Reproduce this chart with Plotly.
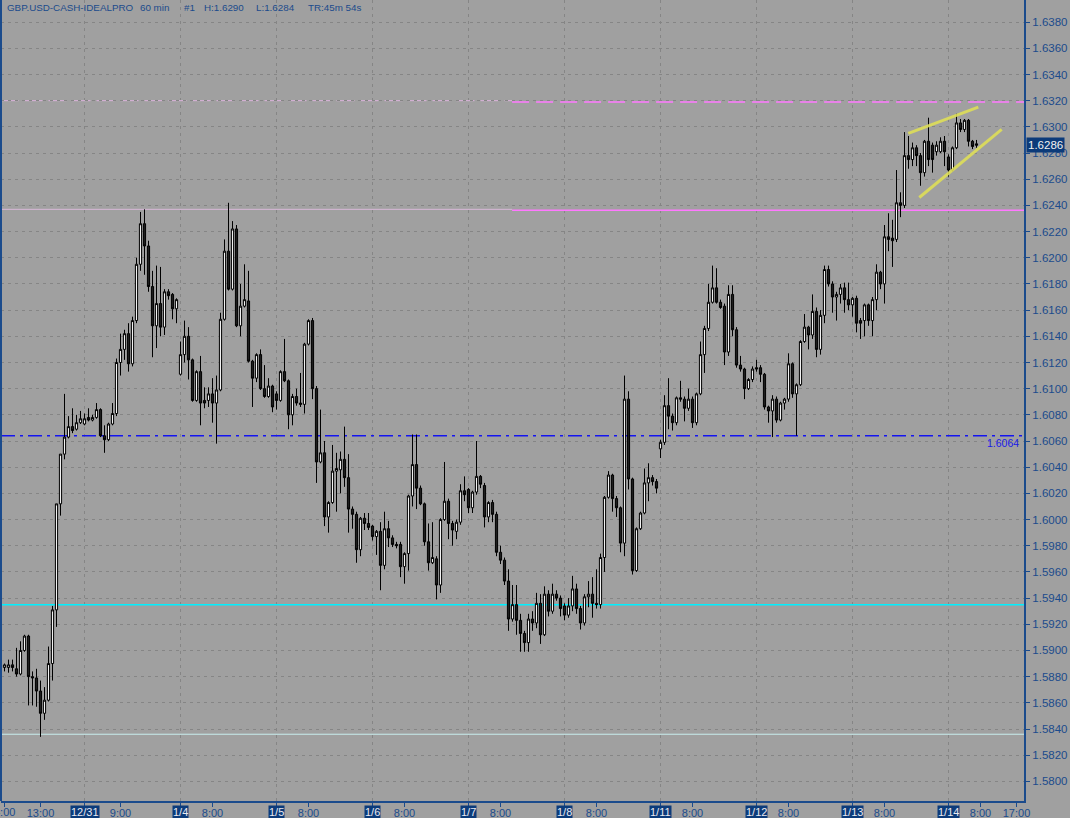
import plotly.graph_objects as go

# ---------------- data (hourly GBP.USD bars, index 0 = 12/30 04:00) ----------------
opens = [1.5887,1.5887,1.5889,1.5886,1.5882,1.5900,1.5911,1.5880,1.5879,1.5869,
         1.5852,1.5862,1.5890,1.5931,1.6012,1.6050,1.6063,1.6071,1.6069,1.6074,
         1.6073,1.6078,1.6076,1.6078,1.6084,1.6064,1.6061,1.6073,1.6081,1.6120,
         1.6130,1.6142,1.6119,1.6152,1.6195,1.6226,1.6209,1.6178,1.6148,1.6165,
         1.6147,1.6174,1.6172,1.6161,1.6111,1.6126,1.6140,1.6122,1.6091,1.6113,
         1.6091,1.6091,1.6096,1.6089,1.6099,1.6153,1.6205,1.6176,1.6222,1.6148,
         1.6163,1.6167,1.6121,1.6108,1.6126,1.6100,1.6094,1.6102,1.6096,1.6091,
         1.6113,1.6106,1.6080,1.6094,1.6089,1.6088,1.6134,1.6152,1.6100,1.6044,
         1.6051,1.6002,1.6013,1.6037,1.6038,1.6046,1.6032,1.6008,1.6004,1.5977,
         1.6001,1.5997,1.5995,1.5987,1.5991,1.5965,1.5993,1.5986,1.5981,1.5981,
         1.5964,1.5974,1.6018,1.6042,1.6024,1.6012,1.5983,1.5967,1.5970,1.5950,
         1.6000,1.6014,1.5997,1.5991,1.5998,1.6022,1.6023,1.6009,1.6021,1.6033,
         1.6026,1.6002,1.6013,1.6004,1.5975,1.5969,1.5953,1.5924,1.5935,1.5923,
         1.5913,1.5906,1.5924,1.5921,1.5936,1.5912,1.5943,1.5930,1.5943,1.5940,
         1.5934,1.5927,1.5934,1.5947,1.5932,1.5921,1.5941,1.5943,1.5936,1.5935,
         1.5971,1.6017,1.6034,1.6016,1.6009,1.5982,1.6092,1.6031,1.5961,1.5993,
         1.6005,1.6028,1.6032,1.6029,1.6054,1.6059,1.6087,1.6079,1.6074,1.6093,
         1.6092,1.6085,1.6092,1.6074,1.6096,1.6126,1.6146,1.6166,1.6177,1.6166,
         1.6163,1.6128,1.6172,1.6145,1.6118,1.6115,1.6100,1.6107,1.6116,1.6116,
         1.6111,1.6086,1.6083,1.6092,1.6076,1.6089,1.6092,1.6119,1.6096,1.6103,
         1.6136,1.6147,1.6141,1.6159,1.6130,1.6156,1.6191,1.6180,1.6170,1.6172,
         1.6177,1.6168,1.6164,1.6169,1.6152,1.6152,1.6164,1.6152,1.6168,1.6189,
         1.6180,1.6216,1.6215,1.6214,1.6242,1.6240,1.6278,1.6275,1.6284,1.6278,
         1.6265,1.6289,1.6286,1.6281,1.6281,1.6289,1.6277,1.6267,1.6284,1.6303,
         1.6298,1.6305,1.6289,1.6287]
highs = [1.5890,1.5893,1.5893,1.5902,1.5907,1.5912,1.5912,1.5884,1.5886,1.5877,
         1.5872,1.5903,1.5934,1.6012,1.6050,1.6096,1.6079,1.6085,1.6080,1.6083,
         1.6081,1.6085,1.6080,1.6089,1.6085,1.6072,1.6074,1.6089,1.6123,1.6142,
         1.6145,1.6150,1.6155,1.6200,1.6235,1.6237,1.6213,1.6190,1.6194,1.6193,
         1.6176,1.6176,1.6173,1.6169,1.6136,1.6152,1.6147,1.6123,1.6114,1.6125,
         1.6101,1.6101,1.6108,1.6110,1.6158,1.6214,1.6242,1.6228,1.6225,1.6180,
         1.6195,1.6190,1.6122,1.6127,1.6130,1.6118,1.6108,1.6103,1.6098,1.6114,
         1.6138,1.6107,1.6096,1.6100,1.6112,1.6135,1.6153,1.6154,1.6102,1.6084,
         1.6060,1.6014,1.6057,1.6051,1.6052,1.6071,1.6050,1.6010,1.6006,1.6002,
         1.6005,1.6005,1.5996,1.5992,1.5998,1.6006,1.5999,1.5988,1.5983,1.5983,
         1.5975,1.6019,1.6065,1.6065,1.6026,1.6013,1.5997,1.5998,1.5972,1.6001,
         1.6044,1.6016,1.5999,1.6000,1.6027,1.6033,1.6024,1.6022,1.6060,1.6034,
         1.6028,1.6014,1.6015,1.6006,1.5980,1.5971,1.5962,1.5950,1.5950,1.5928,
         1.5915,1.5928,1.5930,1.5944,1.5943,1.5949,1.5946,1.5951,1.5946,1.5942,
         1.5936,1.5940,1.5957,1.5951,1.5934,1.5943,1.5953,1.5956,1.5962,1.5974,
         1.6018,1.6037,1.6035,1.6018,1.6010,1.6110,1.6098,1.6032,1.5994,1.6006,
         1.6039,1.6043,1.6034,1.6031,1.6061,1.6095,1.6108,1.6081,1.6094,1.6106,
         1.6094,1.6100,1.6094,1.6097,1.6136,1.6148,1.6180,1.6194,1.6192,1.6168,
         1.6165,1.6179,1.6179,1.6147,1.6125,1.6116,1.6108,1.6117,1.6122,1.6118,
         1.6112,1.6087,1.6095,1.6094,1.6090,1.6093,1.6127,1.6120,1.6104,1.6137,
         1.6157,1.6148,1.6172,1.6162,1.6160,1.6194,1.6194,1.6182,1.6174,1.6180,
         1.6181,1.6181,1.6170,1.6171,1.6154,1.6165,1.6165,1.6170,1.6195,1.6190,
         1.6225,1.6234,1.6229,1.6267,1.6250,1.6296,1.6293,1.6288,1.6286,1.6280,
         1.6290,1.6307,1.6288,1.6289,1.6292,1.6293,1.6279,1.6285,1.6310,1.6306,
         1.6306,1.6306,1.6290,1.6290]
lows =  [1.5884,1.5883,1.5884,1.5880,1.5881,1.5899,1.5858,1.5858,1.5857,1.5834,
         1.5847,1.5861,1.5877,1.5918,1.6003,1.6046,1.6062,1.6066,1.6068,1.6073,
         1.6072,1.6075,1.6075,1.6077,1.6063,1.6051,1.6060,1.6072,1.6079,1.6110,
         1.6122,1.6113,1.6117,1.6150,1.6190,1.6187,1.6174,1.6124,1.6131,1.6140,
         1.6141,1.6168,1.6153,1.6150,1.6110,1.6120,1.6107,1.6090,1.6090,1.6072,
         1.6085,1.6086,1.6074,1.6058,1.6098,1.6152,1.6175,1.6175,1.6147,1.6140,
         1.6162,1.6120,1.6086,1.6105,1.6099,1.6093,1.6093,1.6082,1.6084,1.6090,
         1.6105,1.6069,1.6072,1.6087,1.6086,1.6081,1.6133,1.6092,1.6028,1.6043,
         1.5995,1.5990,1.6012,1.6006,1.6020,1.6025,1.5990,1.5993,1.5967,1.5972,
         1.5992,1.5992,1.5984,1.5973,1.5946,1.5962,1.5979,1.5979,1.5978,1.5956,
         1.5951,1.5961,1.6010,1.6008,1.6011,1.5980,1.5961,1.5966,1.5939,1.5944,
         1.5999,1.5985,1.5980,1.5985,1.5996,1.6014,1.6005,1.6005,1.6019,1.6024,
         1.5994,1.5998,1.5998,1.5972,1.5966,1.5950,1.5915,1.5922,1.5912,1.5899,
         1.5899,1.5899,1.5915,1.5917,1.5905,1.5911,1.5926,1.5928,1.5938,1.5926,
         1.5923,1.5925,1.5930,1.5928,1.5916,1.5919,1.5933,1.5925,1.5932,1.5932,
         1.5960,1.6016,1.6006,1.6002,1.5975,1.5972,1.6023,1.5958,1.5960,1.5992,
         1.6004,1.6014,1.6026,1.6020,1.6047,1.6057,1.6069,1.6068,1.6072,1.6090,
         1.6075,1.6083,1.6070,1.6072,1.6095,1.6112,1.6144,1.6165,1.6165,1.6161,
         1.6118,1.6125,1.6140,1.6116,1.6113,1.6092,1.6099,1.6105,1.6113,1.6105,
         1.6084,1.6074,1.6063,1.6074,1.6075,1.6084,1.6090,1.6093,1.6064,1.6102,
         1.6135,1.6130,1.6138,1.6124,1.6126,1.6150,1.6178,1.6158,1.6152,1.6165,
         1.6158,1.6160,1.6155,1.6143,1.6138,1.6140,1.6148,1.6140,1.6160,1.6176,
         1.6165,1.6205,1.6193,1.6212,1.6231,1.6238,1.6268,1.6270,1.6270,1.6255,
         1.6262,1.6270,1.6265,1.6278,1.6280,1.6270,1.6262,1.6266,1.6283,1.6296,
         1.6296,1.6285,1.6283,1.6284]
closes = [1.5889,1.5889,1.5887,1.5882,1.5900,1.5911,1.5880,1.5879,1.5869,1.5852,
          1.5862,1.5890,1.5931,1.6012,1.6050,1.6063,1.6071,1.6068,1.6074,1.6077,
          1.6077,1.6076,1.6078,1.6084,1.6064,1.6061,1.6073,1.6081,1.6120,1.6130,
          1.6142,1.6119,1.6152,1.6195,1.6226,1.6209,1.6178,1.6148,1.6165,1.6147,
          1.6174,1.6171,1.6161,1.6168,1.6126,1.6140,1.6122,1.6091,1.6113,1.6089,
          1.6089,1.6096,1.6089,1.6099,1.6153,1.6205,1.6176,1.6222,1.6148,1.6163,
          1.6168,1.6121,1.6108,1.6126,1.6100,1.6094,1.6102,1.6086,1.6091,1.6113,
          1.6106,1.6080,1.6094,1.6089,1.6088,1.6134,1.6152,1.6100,1.6044,1.6051,
          1.6002,1.6013,1.6037,1.6039,1.6046,1.6032,1.6008,1.6004,1.5977,1.6001,
          1.5997,1.5994,1.5987,1.5991,1.5965,1.5993,1.5986,1.5981,1.5980,1.5964,
          1.5974,1.6018,1.6042,1.6024,1.6012,1.5983,1.5967,1.5971,1.5950,1.6000,
          1.6014,1.5997,1.5992,1.5998,1.6022,1.6019,1.6009,1.6021,1.6033,1.6027,
          1.6002,1.6013,1.6004,1.5975,1.5969,1.5953,1.5924,1.5935,1.5923,1.5913,
          1.5906,1.5924,1.5921,1.5936,1.5912,1.5943,1.5930,1.5943,1.5940,1.5932,
          1.5927,1.5934,1.5947,1.5932,1.5921,1.5941,1.5943,1.5936,1.5935,1.5971,
          1.6017,1.6034,1.6016,1.6009,1.5982,1.6092,1.6031,1.5961,1.5993,1.6005,
          1.6028,1.6032,1.6029,1.6024,1.6059,1.6087,1.6079,1.6074,1.6093,1.6092,
          1.6085,1.6092,1.6074,1.6096,1.6126,1.6146,1.6166,1.6177,1.6166,1.6162,
          1.6128,1.6172,1.6145,1.6118,1.6115,1.6100,1.6107,1.6115,1.6115,1.6111,
          1.6086,1.6083,1.6092,1.6076,1.6089,1.6092,1.6119,1.6096,1.6103,1.6136,
          1.6147,1.6141,1.6159,1.6130,1.6156,1.6191,1.6180,1.6170,1.6172,1.6177,
          1.6168,1.6164,1.6169,1.6150,1.6150,1.6164,1.6152,1.6168,1.6189,1.6180,
          1.6216,1.6214,1.6213,1.6242,1.6240,1.6278,1.6275,1.6284,1.6278,1.6265,
          1.6289,1.6275,1.6275,1.6286,1.6289,1.6281,1.6267,1.6284,1.6303,1.6298,
          1.6305,1.6289,1.6285,1.6286]

bar_index = list(range(len(closes)))

# x-axis labels (bar index positions)
time_tick_idx = [0, 9, 29, 52, 76, 100, 124, 148, 172, 196, 220, 244, 253]
time_tick_txt = ["4:00", "13:00", "9:00", "8:00", "8:00", "8:00", "8:00",
                 "8:00", "8:00", "8:00", "8:00", "8:00", "17:00"]
day_idx = [20, 44, 68, 92, 116, 140, 164, 188, 212, 236]
day_txt = ["12/31", "1/4", "1/5", "1/6", "1/7", "1/8", "1/11", "1/12", "1/13", "1/14"]

# y-axis ticks
price_ticks = [round(1.5800 + 0.002 * k, 4) for k in range(30)]

# horizontal levels
level_res_top = 1.6320
level_res_bot = 1.6237
level_pivot = 1.6064
level_cyan = 1.5935
level_low = 1.5836
level_split_idx = 126.9          # where the magenta segments begin
# wedge (rising) lines: (x0, y0, x1, y1) in bar index / price
wedge_upper = (225.95, 1.6295, 243.45, 1.6315)
wedge_lower = (228.7, 1.6246, 249.3, 1.6298)

last_price = 1.6286

# ---------------- styling ----------------
BG = "#a0a0a0"
AXIS_BLUE = "#1b4b8c"
BOX_BLUE = "#0c3b7a"
FONT = "Liberation Sans, Arial, sans-serif"

fig = go.Figure()
fig.add_trace(go.Candlestick(
    x=bar_index, open=opens, high=highs, low=lows, close=closes,
    increasing=dict(fillcolor="#f2f2f2", line=dict(color="#000000", width=1)),
    decreasing=dict(fillcolor="#1e1e1e", line=dict(color="#000000", width=1)),
    whiskerwidth=0, hoverinfo="skip", showlegend=False,
))

shapes = []
# vertical day grid lines
for d in day_idx:
    shapes.append(dict(type="line", xref="x", yref="paper", x0=d, x1=d, y0=0, y1=1,
                       line=dict(color="#858585", width=1, dash="3px,4px"), layer="below"))
# horizontal levels
shapes += [
    dict(type="line", xref="paper", yref="y", x0=0, x1=1, y0=level_low, y1=level_low,
         line=dict(color="#c8eeee", width=1), layer="below"),
    dict(type="line", xref="paper", yref="y", x0=0, x1=1, y0=level_cyan, y1=level_cyan,
         line=dict(color="#00f0ff", width=1.5), layer="below"),
    dict(type="line", xref="paper", yref="y", x0=0, x1=1, y0=level_pivot, y1=level_pivot,
         line=dict(color="#1414f0", width=1.5, dash="14px,5px,3px,5px"), layer="below"),
    dict(type="line", xref="x", yref="y", x0=-1, x1=level_split_idx, y0=level_res_top, y1=level_res_top,
         line=dict(color="#dcb4dc", width=1, dash="18px,6px"), layer="below"),
    dict(type="line", xref="x", yref="y", x0=level_split_idx, x1=260, y0=level_res_top - 0.0001,
         y1=level_res_top - 0.0001, line=dict(color="#ff78ff", width=1.5, dash="17px,7px"), layer="below"),
    dict(type="line", xref="x", yref="y", x0=-1, x1=level_split_idx, y0=level_res_bot, y1=level_res_bot,
         line=dict(color="#d8b8d8", width=1), layer="below"),
    dict(type="line", xref="x", yref="y", x0=level_split_idx, x1=260, y0=level_res_bot - 0.00007,
         y1=level_res_bot - 0.00007, line=dict(color="#ff78ff", width=1.5), layer="below"),
]
# wedge lines
for (ax0, ay0, ax1, ay1) in (wedge_upper, wedge_lower):
    shapes.append(dict(type="line", xref="x", yref="y", x0=ax0, y0=ay0, x1=ax1, y1=ay1,
                       line=dict(color="rgba(222,222,88,0.9)", width=3), layer="above"))
# left border
shapes.append(dict(type="line", xref="paper", yref="paper", x0=0, x1=0, y0=0, y1=1,
                   line=dict(color=AXIS_BLUE, width=2), layer="above"))

annotations = []
# header segments (pixel x positions in the plot area)
header = [("GBP.USD-CASH-IDEALPRO", 5), ("60 min", 138), ("#1", 182),
          ("H:1.6290", 202), ("L:1.6284", 254), ("TR:45m 54s", 306)]
for txt, px in header:
    annotations.append(dict(text=txt, xref="paper", yref="paper", x=(px - 1) / 1023, y=1,
                            xanchor="left", yanchor="top", yshift=0, showarrow=False,
                            font=dict(family=FONT, size=9.8, color=AXIS_BLUE)))
# first (clipped) time label at the left edge
annotations.append(dict(text=time_tick_txt[0], xref="x", yref="paper", x=time_tick_idx[0], y=0,
                        xanchor="center", yanchor="top", yshift=-3, showarrow=False,
                        font=dict(family=FONT, size=11, color=AXIS_BLUE)))
# date boxes on the x axis
for d, t in zip(day_idx, day_txt):
    annotations.append(dict(text=t, xref="x", yref="paper", x=d, y=0, xanchor="center",
                            yanchor="top", yshift=-4, showarrow=False, bgcolor=BOX_BLUE,
                            borderpad=0, font=dict(family=FONT, size=11, color="#e8e8f0")))
# pivot label
annotations.append(dict(text=f"{level_pivot:.4f}", xref="paper", yref="y", x=1, y=level_pivot,
                        xanchor="right", yanchor="top", xshift=-3, yshift=1, showarrow=False,
                        font=dict(family=FONT, size=10.5, color="#1a1ae8")))
# last price box
annotations.append(dict(text=f"{last_price:.4f}", xref="paper", yref="y", x=1, y=last_price,
                        xanchor="left", yanchor="middle", xshift=2, showarrow=False,
                        bgcolor=BOX_BLUE, borderpad=1,
                        font=dict(family=FONT, size=11.5, color="#f0f0f0")))

fig.update_layout(
    template="none",
    width=1070, height=818,
    margin=dict(l=1, r=46, t=0, b=17),
    paper_bgcolor=BG, plot_bgcolor=BG,
    showlegend=False, hovermode=False,
    boxgap=0.22,
    shapes=shapes, annotations=annotations,
    xaxis=dict(
        range=[-0.875, 254.875], rangeslider=dict(visible=False),
        tickmode="array", tickvals=time_tick_idx + day_idx,
        ticktext=[""] + time_tick_txt[1:] + [""] * len(day_idx),
        ticks="outside", ticklen=4, tickcolor=AXIS_BLUE, tickwidth=1,
        ticklabelstandoff=-3,
        showgrid=False, zeroline=False, showline=True, linecolor=AXIS_BLUE, linewidth=2,
        tickfont=dict(family=FONT, size=11, color=AXIS_BLUE), automargin=False,
        fixedrange=True,
    ),
    yaxis=dict(
        side="right", range=[1.5785, 1.63969],
        tickmode="array", tickvals=price_ticks, ticktext=[f"{v:.4f}" for v in price_ticks],
        ticks="outside", ticklen=4, tickcolor=AXIS_BLUE, tickwidth=1,
        showgrid=True, gridcolor="#858585", gridwidth=1, griddash="3px,4px",
        zeroline=False, showline=True, linecolor=AXIS_BLUE, linewidth=2,
        tickfont=dict(family=FONT, size=11.5, color=AXIS_BLUE), automargin=False,
        fixedrange=True,
    ),
)

fig.write_html(
    "out.html",
    config=dict(displayModeBar=False),
    post_script="document.body.style.margin='0';document.body.style.overflow='hidden';",
)
